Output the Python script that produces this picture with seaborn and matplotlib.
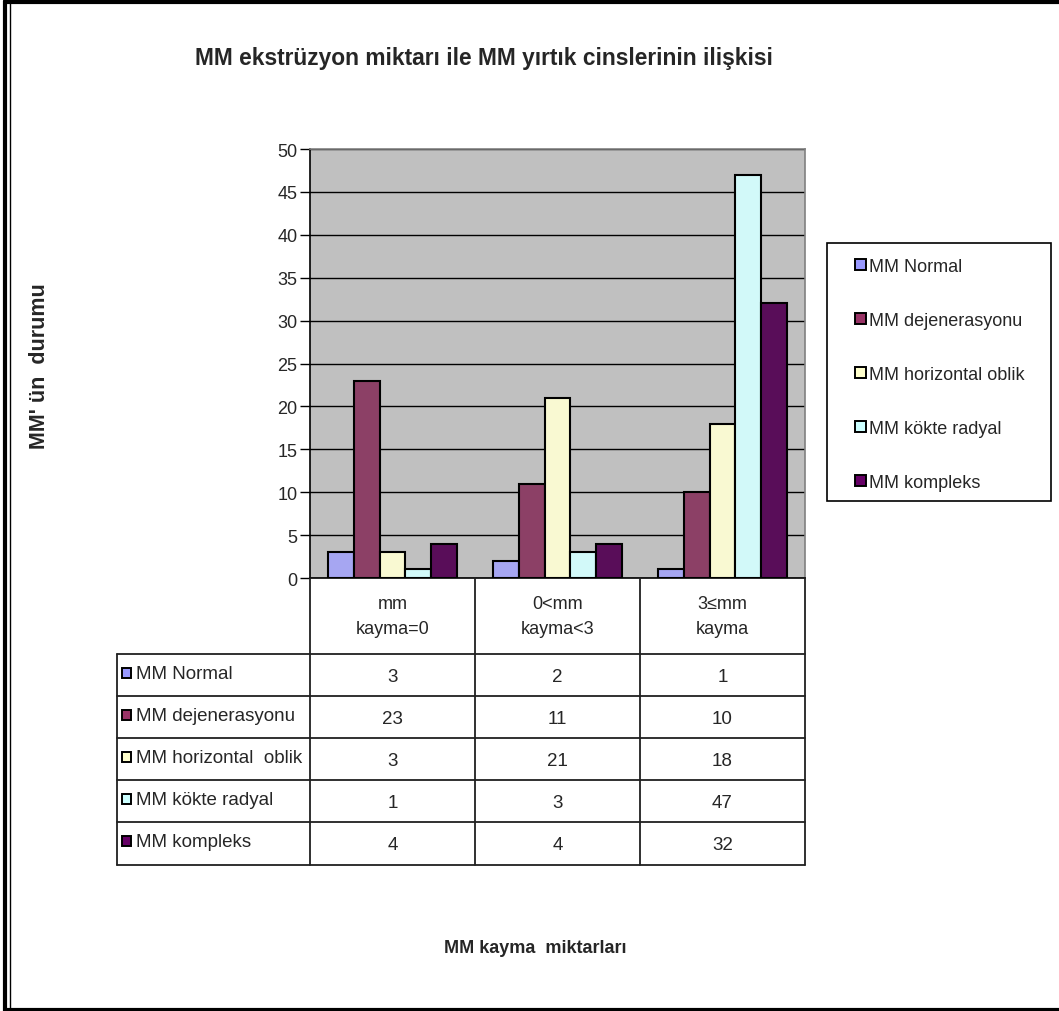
import matplotlib
matplotlib.use("Agg")
import matplotlib.pyplot as plt
from matplotlib.patches import Patch, Rectangle
from matplotlib.lines import Line2D
import seaborn as sns
import pandas as pd

# --- data ---
categories = ["mm\nkayma=0", "0<mm\nkayma<3", "3≤mm\nkayma"]
series = ["MM Normal", "MM dejenerasyonu", "MM horizontal oblik",
          "MM kökte radyal", "MM kompleks"]
table_labels = ["MM Normal", "MM dejenerasyonu", "MM horizontal  oblik",
                "MM kökte radyal", "MM kompleks"]
normal = [3, 2, 1]
dejenerasyon = [23, 11, 10]
horizontal = [3, 21, 18]
kokte = [1, 3, 47]
kompleks = [4, 4, 32]
colors = ["#9999FF", "#993366", "#FFFFCC", "#CCFFFF", "#660066"]

values = [normal, dejenerasyon, horizontal, kokte, kompleks]
df = pd.DataFrame(
    [(c, s, v) for s, vals in zip(series, values) for c, v in zip(categories, vals)],
    columns=["kategori", "seri", "deger"],
)

sns.set_theme(style="white")
plt.rcParams["font.family"] = ["Liberation Sans", "DejaVu Sans"]

W, H = 1059, 1012
fig = plt.figure(figsize=(W / 100, H / 100), dpi=100)


def fx(x):
    return x / W


def fy(y):
    return 1 - y / H


ax_l, ax_r, ax_t, ax_b = 310, 805, 150, 579
ax = fig.add_axes([fx(ax_l), fy(ax_b), fx(ax_r) - fx(ax_l), fy(ax_t) - fy(ax_b)])
ax.set_facecolor("#C0C0C0")

sns.barplot(data=df, x="kategori", y="deger", hue="seri", palette=colors,
            edgecolor="black", linewidth=1.5, width=0.78, gap=0,
            ax=ax, legend=False, zorder=3)

ax.set_ylim(0, 50)
ax.set_xlim(-0.5, 2.5)
ax.set_yticks(range(0, 51, 5))
ax.yaxis.grid(True, color="black", linewidth=1.0, zorder=1)
ax.set_axisbelow(True)
ax.tick_params(axis="y", left=True, length=7, width=1, color="black",
               labelsize=13, pad=2)
ax.tick_params(axis="x", bottom=False, labelbottom=False)
ax.set_xlabel("")
ax.set_ylabel("")
for side in ["left", "bottom"]:
    ax.spines[side].set_color("black")
    ax.spines[side].set_linewidth(1.2)
for side in ["top", "right"]:
    ax.spines[side].set_color("#808080")
    ax.spines[side].set_linewidth(1.2)

# --- data table under the plot ---
def col_px(xdata):
    disp = ax.transData.transform((xdata, 0))
    return fig.transFigure.inverted().transform(disp)[0] * W

col_edges = [col_px(b) for b in (-0.5, 0.5, 1.5, 2.5)]
tbl_left = 117
head_bot = 655
row_h = 42.1
row_edges = [head_bot + i * row_h for i in range(len(series) + 1)]
lc = "#202020"
lw = 1.3

for xe in col_edges:
    fig.add_artist(Line2D([fx(xe), fx(xe)], [fy(ax_b), fy(row_edges[-1])],
                          color=lc, linewidth=lw))
fig.add_artist(Line2D([fx(tbl_left), fx(tbl_left)], [fy(head_bot), fy(row_edges[-1])],
                      color=lc, linewidth=lw))
for ye in row_edges:
    fig.add_artist(Line2D([fx(tbl_left), fx(col_edges[-1])], [fy(ye), fy(ye)],
                          color=lc, linewidth=lw))

for i, cat in enumerate(categories):
    cx = (col_edges[i] + col_edges[i + 1]) / 2
    fig.text(fx(cx), fy((ax_b + head_bot) / 2), cat, ha="center", va="center",
             fontsize=13, linespacing=1.55)

for r, (lab, vals, col) in enumerate(zip(table_labels, values, colors)):
    cy = (row_edges[r] + row_edges[r + 1]) / 2
    fig.add_artist(Rectangle((fx(122), fy(cy + 3)), fx(9), 10 / H,
                             facecolor=col, edgecolor="black", linewidth=1.4))
    fig.text(fx(136), fy(cy - 2), lab, ha="left", va="center", fontsize=13.5)
    for i, v in enumerate(vals):
        cx = (col_edges[i] + col_edges[i + 1]) / 2
        fig.text(fx(cx), fy(cy + 1), str(v), ha="center", va="center", fontsize=13.5)

# --- legend ---
handles = [Patch(facecolor=c, edgecolor="black", linewidth=1.4, label=s)
           for c, s in zip(colors, series)]
leg = fig.legend(handles=handles, loc="upper left",
                 bbox_to_anchor=(fx(855), fy(259)), frameon=False,
                 fontsize=13, handlelength=0.6, handleheight=0.6,
                 handletextpad=0.2, labelspacing=2.05, borderpad=0,
                 borderaxespad=0)
fig.add_artist(Rectangle((fx(827), fy(502)), fx(1051) - fx(827), fy(244) - fy(502),
                         fill=False, edgecolor="black", linewidth=1.2))

# --- titles ---
fig.text(fx(484), fy(58), "MM ekstrüzyon miktarı ile MM yırtık cinslerinin ilişkisi",
         ha="center", va="center", fontsize=16.4, fontweight="bold")
fig.text(fx(40), fy(366), "MM' ün  durumu", ha="center", va="center",
         rotation=90, fontsize=15.5, fontweight="bold")
fig.text(fx(535), fy(949), "MM kayma  miktarları", ha="center", va="center",
         fontsize=13, fontweight="bold")

# --- outer frame ---
fig.add_artist(Line2D([fx(5), fx(1059)], [fy(3), fy(3)], color="black", linewidth=3))
fig.add_artist(Line2D([fx(5), fx(1059)], [fy(1010.5), fy(1010.5)], color="black", linewidth=3))
fig.add_artist(Line2D([fx(5), fx(5)], [fy(2), fy(1012)], color="black", linewidth=3))
fig.add_artist(Line2D([fx(9.5), fx(9.5)], [fy(4), fy(1009)], color="black", linewidth=1.0))

fig.savefig("out.png", dpi=100)
